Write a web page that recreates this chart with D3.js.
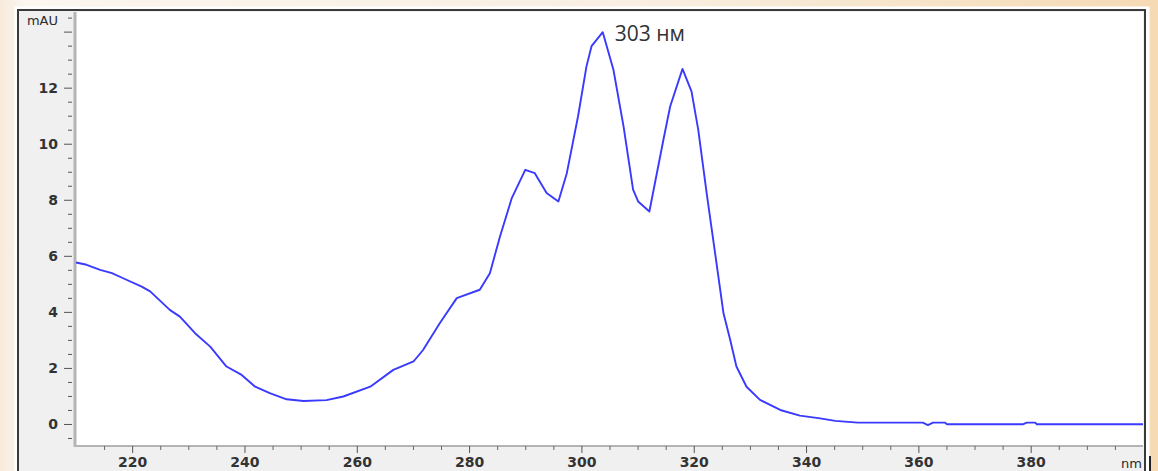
<!DOCTYPE html>
<html>
<head>
<meta charset="utf-8">
<script src="https://cdn.jsdelivr.net/npm/d3@7"></script>
<style>
    html, body { margin: 0; padding: 0; }
    body { width: 1158px; height: 471px; overflow: hidden; }
</style>
</head>
<body>
<div id="chart"></div>
<script>
// spectrum
const wavelengths = [210, 211.9, 214.3, 216.4, 218.4, 221.7, 223.2, 226.7, 228.5, 231.2,
    233.9, 236.8, 239.5, 241.9, 244.5, 247.5, 250.5, 254.6, 257.6, 262.4,
    266.5, 270.1, 271.8, 274.8, 277.8, 281.9, 283.7, 285.5, 287.6, 290,
    291.7, 293.8, 295.9, 297.4, 299.4, 300.9, 301.8, 303.8, 305.7, 307.5,
    309.2, 310.1, 312.1, 314.6, 315.8, 318, 319.6, 320.8, 322.3, 323.8,
    325.3, 326.5, 327.6, 329.4, 331.8, 335.4, 338.9, 342.5, 345.2, 349.2,
    355, 360.8, 361.7, 362.6, 364.7, 365.1, 372, 378.6, 379.3, 380.8,
    381.1, 390, 400];
const absorbance = [5.76, 5.68, 5.5, 5.38, 5.2, 4.9, 4.73, 4.07, 3.83, 3.24,
    2.76, 2.05, 1.75, 1.33, 1.1, 0.88, 0.82, 0.85, 0.98, 1.33,
    1.93, 2.23, 2.64, 3.6, 4.49, 4.79, 5.38, 6.69, 8.06, 9.07,
    8.95, 8.24, 7.94, 8.95, 10.98, 12.76, 13.48, 13.98, 12.64, 10.62,
    8.36, 7.94, 7.58, 10.14, 11.33, 12.67, 11.87, 10.5, 8.24, 6.1,
    3.95, 3.0, 2.05, 1.33, 0.86, 0.5, 0.3, 0.2, 0.11, 0.05,
    0.05, 0.05, -0.04, 0.05, 0.05, -0.01, -0.01, -0.01, 0.05, 0.05,
    -0.01, -0.01, -0.01];

const yMajor = [0, 2, 4, 6, 8, 10, 12, 14];
const yLabels = ["0", "2", "4", "6", "8", "10", "12", ""];
const xMajor = [220, 240, 260, 280, 300, 320, 340, 360, 380];
const yUnit = "mAU";
const xUnit = "nm";
const peakLabel = "303 нм";
const peakAt = 303.8;

const width = 1158, height = 471;

const svg = d3.select("#chart").append("svg")
    .attr("width", width)
    .attr("height", height)
    .style("font-family", "'DejaVu Sans', Verdana, sans-serif");

// page background (beige slide)
const defs = svg.append("defs");
const grad = defs.append("linearGradient").attr("id", "bg");
grad.append("stop").attr("offset", "0%").attr("stop-color", "#f7eadb");
grad.append("stop").attr("offset", "2%").attr("stop-color", "#fbf6ef");
grad.append("stop").attr("offset", "55%").attr("stop-color", "#f9efe2");
grad.append("stop").attr("offset", "100%").attr("stop-color", "#f5dab4");

svg.append("rect").attr("width", width).attr("height", height).attr("fill", "url(#bg)");

// screenshot frame
svg.append("rect")
    .attr("x", 17).attr("y", 9).attr("width", 1130).attr("height", 480)
    .attr("fill", "#f0f0f0")
    .attr("stroke", "#ffffff").attr("stroke-width", 5);
svg.append("rect")
    .attr("x", 18).attr("y", 10).attr("width", 1127).attr("height", 480)
    .attr("fill", "#f0f0f0")
    .attr("stroke", "#3a3a3a").attr("stroke-width", 2);

const plot = {left: 76, right: 1143, top: 12, bottom: 445};

svg.append("rect")
    .attr("x", plot.left).attr("y", plot.top)
    .attr("width", plot.right - plot.left).attr("height", plot.bottom - plot.top)
    .attr("fill", "#ffffff");

const x = d3.scaleLinear().domain([210, 400]).range([plot.left, plot.right]);
const y = d3.scaleLinear().domain([-0.75, 14.7]).range([plot.bottom, plot.top]);

// axis lines (grey bars)
svg.append("line")
    .attr("x1", plot.left - 1).attr("x2", plot.left - 1)
    .attr("y1", plot.top).attr("y2", plot.bottom + 2)
    .attr("stroke", "#b4b4b4").attr("stroke-width", 3);
svg.append("line")
    .attr("x1", plot.left - 2).attr("x2", plot.right)
    .attr("y1", plot.bottom + 1).attr("y2", plot.bottom + 1)
    .attr("stroke", "#b4b4b4").attr("stroke-width", 2);

const labelStyle = g => g.selectAll("text")
    .attr("fill", "#333")
    .style("font-size", "14px")
    .style("font-weight", "bold")
    .style("font-family", "'DejaVu Sans', Verdana, sans-serif");

// y axis: minor then major ticks
const yMinor = d3.range(-0.5, 14.6, 0.5).filter(v => v % 2 !== 0);
svg.append("g")
    .attr("transform", `translate(${plot.left - 4},0)`)
    .call(d3.axisLeft(y).tickValues(yMinor).tickSize(4).tickFormat(""))
    .call(g => g.select(".domain").remove())
    .call(g => g.selectAll("line").attr("stroke", "#555"));

svg.append("g")
    .attr("transform", `translate(${plot.left - 4},0)`)
    .call(d3.axisLeft(y).tickValues(yMajor).tickSize(8).tickPadding(6)
        .tickFormat((d, i) => yLabels[i]))
    .call(g => g.select(".domain").remove())
    .call(g => g.selectAll("line").attr("stroke", "#555"))
    .call(labelStyle);

svg.append("text")
    .attr("x", 58).attr("y", 25)
    .attr("text-anchor", "end")
    .attr("fill", "#2a2a2a")
    .style("font-size", "13px")
    .text(yUnit);

// x axis
const xMinor = d3.range(215, 401, 5).filter(v => v % 20 !== 0);
svg.append("g")
    .attr("transform", `translate(0,${plot.bottom + 1})`)
    .call(d3.axisBottom(x).tickValues(xMinor).tickSize(4).tickFormat(""))
    .call(g => g.select(".domain").remove())
    .call(g => g.selectAll("line").attr("stroke", "#666"));

svg.append("g")
    .attr("transform", `translate(0,${plot.bottom + 1})`)
    .call(d3.axisBottom(x).tickValues(xMajor).tickSize(7).tickPadding(4))
    .call(g => g.select(".domain").remove())
    .call(g => g.selectAll("line").attr("stroke", "#555"))
    .call(labelStyle);

svg.append("text")
    .attr("x", plot.right - 1).attr("y", 468)
    .attr("text-anchor", "end")
    .attr("fill", "#2a2a2a")
    .style("font-size", "13px")
    .text(xUnit);

// small cursor mark at the bottom right
svg.append("line")
    .attr("x1", 1150).attr("x2", 1150).attr("y1", 456).attr("y2", 471)
    .attr("stroke", "#222").attr("stroke-width", 2);

// spectrum line
const points = wavelengths.map((w, i) => [w, absorbance[i]]);
const line = d3.line()
    .x(d => x(d[0]))
    .y(d => y(d[1]));

svg.append("path")
    .datum(points)
    .attr("d", line)
    .attr("fill", "none")
    .attr("stroke", "#3a3aff")
    .attr("stroke-width", 1.9)
    .attr("stroke-linejoin", "round");

// peak annotation
svg.append("text")
    .attr("x", x(peakAt) + 12)
    .attr("y", y(13.98) + 9)
    .attr("fill", "#333")
    .style("font-family", "'Open Sans', sans-serif")
    .style("font-size", "21px")
    .text(peakLabel);
</script>
</body>
</html>
